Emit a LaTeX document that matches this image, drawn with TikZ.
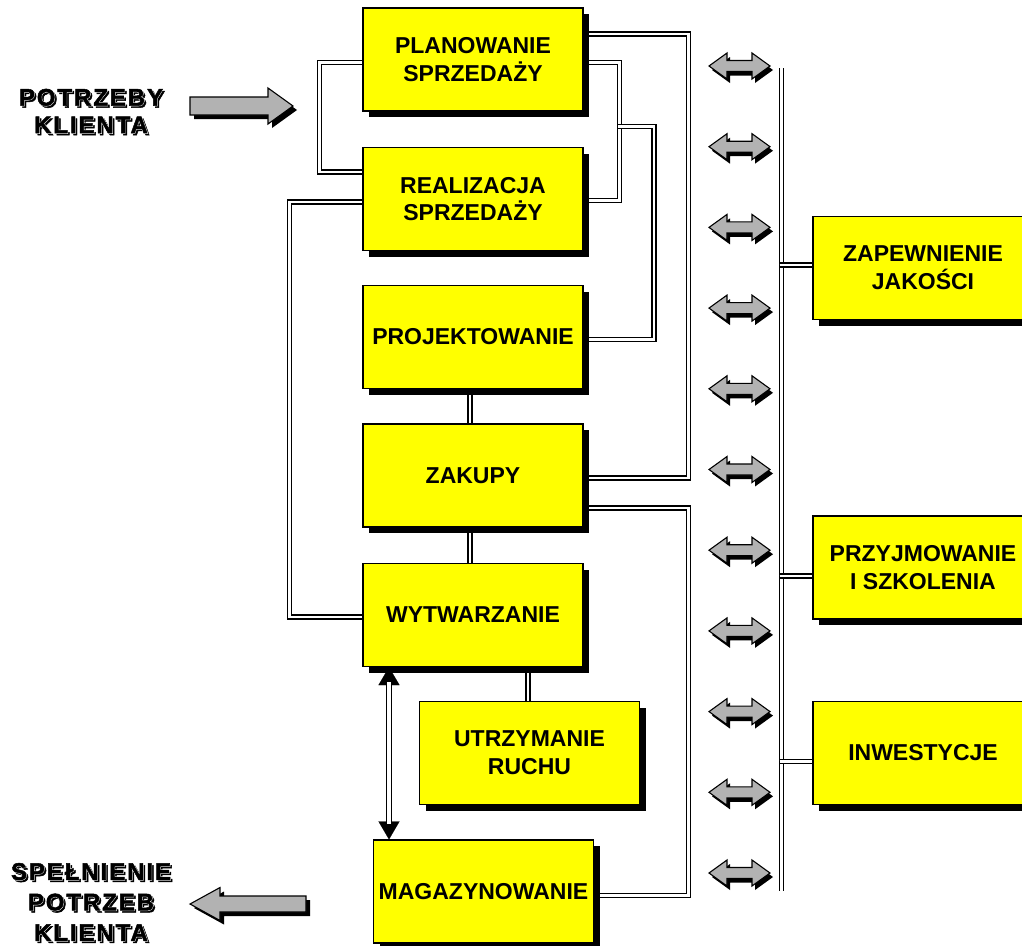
\documentclass[tikz,border=0pt]{standalone}
\usepackage{fontspec}
\setmainfont{Liberation Sans}
\newfontfamily\lblblack[LetterSpace=8,FakeBold=2]{Liberation Sans Bold}
\newfontfamily\lblwhite[LetterSpace=8,FakeBold=6]{Liberation Sans Bold}
\usetikzlibrary{shadows,backgrounds,arrows.meta}
\definecolor{arrgray}{RGB}{178,178,178}
\definecolor{boxyellow}{RGB}{255,255,0}
\begin{document}
\begin{tikzpicture}[x=1pt,y=-1pt,
  box/.style={draw=black,line width=1.1pt,fill=boxyellow,minimum width=220pt,minimum height=103pt,
    inner sep=0pt,align=center,font={\fontsize{23}{27.7}\selectfont\bfseries},
    drop shadow={shadow xshift=6pt,shadow yshift=-6pt,fill=black,opacity=1}},
  dbl/.style={draw=black,line width=1.2pt,double=white,double distance=2.8pt},
  blockarrow/.style={fill=arrgray,draw=black,line width=1.1pt,line join=miter},
  lblblk/.style={font={\fontsize{24}{#1}\selectfont\lblblack},align=center,inner sep=0pt,text=black},
  lblwht/.style={font={\fontsize{24}{#1}\selectfont\lblwhite},align=center,inner sep=0pt,text=white},
  dblarrow/.pic={
    \fill[black] (-27.5,4) -- (-9.5,-9) -- (-9.5,-1.5) -- (15.5,-1.5) -- (15.5,-9) -- (33.5,4)
      -- (15.5,17) -- (15.5,9.5) -- (-9.5,9.5) -- (-9.5,17) -- cycle;
    \filldraw[blockarrow] (-30.5,0) -- (-12.5,-13) -- (-12.5,-5.5) -- (12.5,-5.5) -- (12.5,-13) -- (30.5,0)
      -- (12.5,13) -- (12.5,5.5) -- (-12.5,5.5) -- (-12.5,13) -- cycle;
  }
]
\useasboundingbox (0,0) rectangle (1022,945);

% boxes
\node[box] (plan) at (473,59.5) {PLANOWANIE\\SPRZEDAŻY};
\node[box] (real) at (473,199) {REALIZACJA\\SPRZEDAŻY};
\node[box] (proj) at (473,337) {PROJEKTOWANIE};
\node[box] (zak)  at (473,475.5) {ZAKUPY};
\node[box] (wyt)  at (473,615) {WYTWARZANIE};
\node[box] (utrz) at (529.5,753) {UTRZYMANIE\\RUCHU};
\node[box] (mag)  at (483.5,891.5) {MAGAZYNOWANIE};
\node[box] (zap)  at (923,268) {ZAPEWNIENIE\\JAKOŚCI};
\node[box] (prz)  at (923,567.5) {PRZYJMOWANIE\\I SZKOLENIA};
\node[box] (inw)  at (923,753) {INWESTYCJE};

% free points
\coordinate (br)   at (618,126.7);
\coordinate (busT) at (781.5,68);
\coordinate (busB) at (781.5,891);
\coordinate (j1) at (779.5,265);
\coordinate (j2) at (779.5,576);
\coordinate (j3) at (779.5,761.5);

\begin{scope}[on background layer]
  \draw[dbl] (plan.west |- 0,62.5) -- (319.5,62.5) -- (319.5,172) -- (real.west |- 0,172);
  \draw[dbl] (real.west |- 0,202) -- (289.5,202) -- (289.5,617) -- (wyt.west |- 0,617);
  \draw[dbl] (plan.east |- 0,62.5) -- (619.5,62.5) -- (619.5,200.5) -- (real.east |- 0,200.5);
  \draw[dbl] (br) -- (654,126.7) -- (654,339.5) -- (proj.east |- 0,339.5);
  \draw[dbl] (plan.east |- 0,34) -- (688.5,34) -- (688.5,478) -- (zak.east |- 0,478);
  \draw[dbl] (zak.east |- 0,508) -- (688.5,508) -- (688.5,895.3) -- (mag.east |- 0,895.3);
  \draw[dbl] (proj.south -| 470,0) -- (zak.north -| 470,0);
  \draw[dbl] (zak.south -| 470,0) -- (wyt.north -| 470,0);
  \draw[dbl] (wyt.south -| 528,0) -- (utrz.north -| 528,0);
  \draw[dbl,double distance=3.4pt] (busT) -- (busB);
  \draw[dbl] (j1) -- (zap.west |- j1);
  \draw[dbl] (j2) -- (prz.west |- j2);
  \draw[dbl] (j3) -- (inw.west |- j3);
\end{scope}

% double-headed arrow between WYTWARZANIE and MAGAZYNOWANIE
\draw[line width=0.1pt,{Triangle[width=21pt,length=18pt]}-{Triangle[width=21pt,length=18pt]}]
  (wyt.south -| 389,0) -- (mag.north -| 389,0);
\draw[line width=6pt,shorten <=16pt,shorten >=16pt] (wyt.south -| 389,0) -- (mag.north -| 389,0);
\draw[white,line width=3.4pt,shorten <=15pt,shorten >=15pt] (wyt.south -| 389,0) -- (mag.north -| 389,0);

% gray double arrows
\foreach \i in {0,...,10}{
  \pic at (739.5,{66+80.7*\i}) {dblarrow};
}

% input / output arrows
\fill[black] (194,101) -- (272,101) -- (272,92) -- (297,110) -- (272,128) -- (272,119) -- (194,119) -- cycle;
\filldraw[blockarrow] (190,97) -- (268,97) -- (268,88) -- (293,106) -- (268,124) -- (268,115) -- (190,115) -- cycle;
\fill[black] (194,908) -- (224,891.5) -- (224,900) -- (310,900) -- (310,916) -- (224,916) -- (224,924.5) -- cycle;
\filldraw[blockarrow] (190,904) -- (220,887.5) -- (220,896) -- (306,896) -- (306,912) -- (220,912) -- (220,920.5) -- cycle;

% labels
\node[lblblk=27.5] (needS) at (93,113) {POTRZEBY\\KLIENTA};
\node[lblwht=27.5] (needW) at (91,111) {POTRZEBY\\KLIENTA};
\node[lblblk=27.5] (need)  at (91,111) {POTRZEBY\\KLIENTA};
\node[lblblk=30.5] (doneS) at (93,904) {SPEŁNIENIE\\POTRZEB\\KLIENTA};
\node[lblwht=30.5] (doneW) at (91,902) {SPEŁNIENIE\\POTRZEB\\KLIENTA};
\node[lblblk=30.5] (done)  at (91,902) {SPEŁNIENIE\\POTRZEB\\KLIENTA};
\end{tikzpicture}
\end{document}
